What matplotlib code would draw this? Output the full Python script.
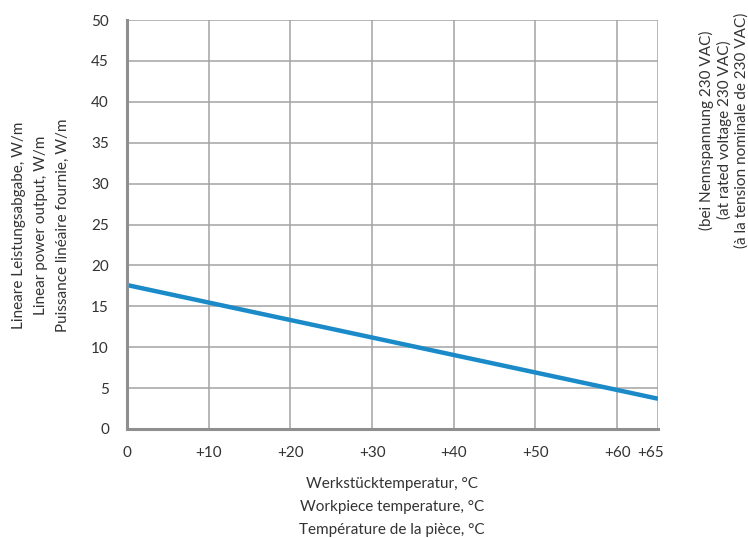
import matplotlib
matplotlib.use('Agg')
import matplotlib.pyplot as plt
import matplotlib.transforms as mtransforms

temperature = [0, 65]
power = [17.6, 3.7]
x_ticks = [0, 10, 20, 30, 40, 50, 60, 65]
x_labels = ['0', '+10', '+20', '+30', '+40', '+50', '+60', '+65']
y_ticks = [0, 5, 10, 15, 20, 25, 30, 35, 40, 45, 50]

x_title = 'Werkstücktemperatur, °C\nWorkpiece temperature, °C\nTempérature de la pièce, °C'
y_title = 'Lineare Leistungsabgabe, W/m\nLinear power output, W/m\nPuissance linéaire fournie, W/m'
note = '(bei Nennspannung 230 VAC)\n(at rated voltage 230 VAC)\n(à la tension nominale de 230 VAC)'

text_color = '#333333'
grid_color = '#a3a3a3'
axis_color = '#8f8f8f'
line_color = '#1a8bc8'


def main():
    plt.rcParams['font.family'] = ['Lato', 'DejaVu Sans']
    fig = plt.figure(figsize=(7.48, 5.38), dpi=100)
    ax = fig.add_axes([127 / 748, 1 - 429 / 538, (658 - 127) / 748, (429 - 20) / 538])

    ax.plot(temperature, power, color=line_color, linewidth=3.2, solid_capstyle='butt', zorder=3)

    ax.set_xlim(0, 65)
    ax.set_ylim(0, 50)
    ax.set_xticks(x_ticks)
    ax.set_xticklabels(x_labels)
    ax.set_yticks(y_ticks)
    ax.set_xticks([0], minor=True)
    ax.grid(True, color=grid_color, linewidth=1.1)
    ax.tick_params(axis='both', which='major', length=0, labelsize=11, labelcolor=text_color)
    ax.tick_params(axis='x', which='major', pad=12)
    ax.tick_params(axis='y', which='major', pad=13)
    ax.tick_params(axis='x', which='minor', length=6, width=2, color=axis_color, direction='out')

    # last label sits a bit left of its grid line
    last = ax.get_xticklabels()[-1]
    last.set_transform(last.get_transform() + mtransforms.ScaledTranslation(-7 / 100, 0, fig.dpi_scale_trans))

    for side in ['top', 'right']:
        ax.spines[side].set_visible(False)
    for side in ['left', 'bottom']:
        ax.spines[side].set_color(axis_color)
        ax.spines[side].set_linewidth(2.2)
        ax.spines[side].set_zorder(4)

    fig.text(392 / 748, 1 - 507 / 538, x_title, ha='center', va='center', multialignment='center',
             fontsize=11, color=text_color, linespacing=1.8)
    fig.text(41 / 748, 1 - 225 / 538, y_title, rotation=90, ha='center', va='center',
             multialignment='center', fontsize=11, color=text_color, linespacing=1.75)
    fig.text(724 / 748, 1 - 130 / 538, note, rotation=90, ha='center', va='center',
             multialignment='center', fontsize=11, color=text_color, linespacing=1.25)

    plt.savefig('out.png', dpi=100)
    plt.close()


if __name__ == '__main__':
    main()
